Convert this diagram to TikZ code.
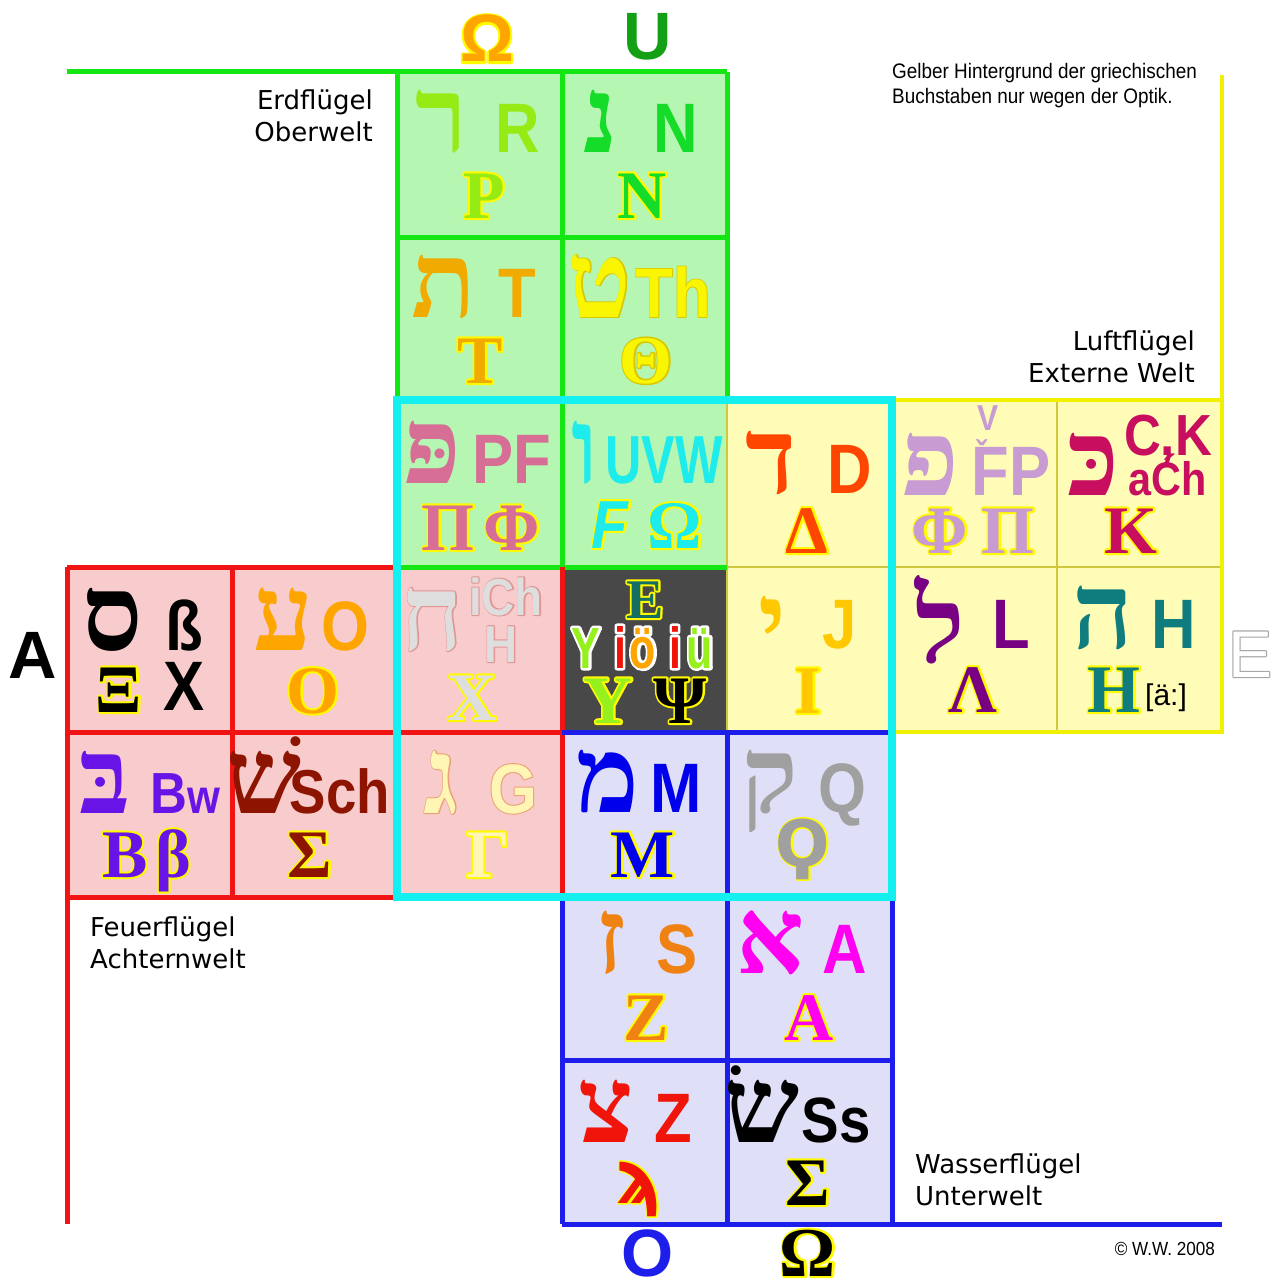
\documentclass[tikz,border=0pt]{standalone}
\usepackage{fontspec}
\setmainfont{Liberation Sans}
\newfontfamily\hebf{Liberation Serif}[Script=Hebrew]
\newfontfamily\latf{Liberation Sans}[FakeStretch=0.88]
\newfontfamily\latn{Liberation Sans}[FakeStretch=0.74]
\newfontfamily\grkf{Liberation Serif}
\newfontfamily\djsf{DejaVu Sans}
\newfontfamily\lblf{DejaVu Sans}
\newfontfamily\cndf{Liberation Sans}[FakeStretch=0.9]
\usetikzlibrary{calc}
\TeXXeTstate=1
\definecolor{gbg}{RGB}{181,246,178}
\definecolor{glnc}{RGB}{20,230,20}
\definecolor{ybg}{RGB}{255,252,184}
\definecolor{ylnc}{RGB}{240,240,0}
\definecolor{ythc}{RGB}{205,200,60}
\definecolor{rbg}{RGB}{248,204,204}
\definecolor{rlnc}{RGB}{240,20,20}
\definecolor{bbg}{RGB}{223,223,247}
\definecolor{blnc}{RGB}{30,30,235}
\definecolor{dbg}{RGB}{72,72,72}
\definecolor{cync}{RGB}{20,240,240}
\definecolor{oly}{RGB}{255,250,0}
\definecolor{olth}{RGB}{215,200,0}
\definecolor{cR}{RGB}{150,235,20}
\definecolor{cN}{RGB}{20,220,40}
\definecolor{cT}{RGB}{240,170,0}
\definecolor{cTh}{RGB}{250,245,0}
\definecolor{cPF}{RGB}{215,110,150}
\definecolor{cU}{RGB}{30,235,235}
\definecolor{cD}{RGB}{255,70,0}
\definecolor{cFP}{RGB}{200,155,210}
\definecolor{cK}{RGB}{200,15,95}
\definecolor{cO}{RGB}{255,165,0}
\definecolor{cCh}{RGB}{222,222,222}
\definecolor{chl}{RGB}{225,150,150}
\definecolor{cJ}{RGB}{255,200,0}
\definecolor{cL}{RGB}{120,0,130}
\definecolor{cH}{RGB}{15,125,125}
\definecolor{cB}{RGB}{105,20,230}
\definecolor{cSch}{RGB}{140,20,0}
\definecolor{cG}{RGB}{255,245,180}
\definecolor{cGl}{RGB}{235,160,120}
\definecolor{cM}{RGB}{0,0,235}
\definecolor{cQ}{RGB}{160,160,160}
\definecolor{cS}{RGB}{240,130,20}
\definecolor{cA}{RGB}{255,0,240}
\definecolor{cZ}{RGB}{240,20,10}
\definecolor{cYl}{RGB}{150,240,30}
\definecolor{cE}{RGB}{20,110,100}
\definecolor{cUtop}{RGB}{20,160,20}
\definecolor{cEgr}{RGB}{165,165,165}
% outlined text: a stroked copy (text render mode 2) under a plain copy
\newcommand\olt[7][4]{%
  \node[#2,text=#5] at (#4) {\special{pdf:literal direct 1 j 1 J #1 w 2 Tr}#7\special{pdf:literal direct 0 Tr}};%
  \node[#2,text=#6] (#3) at (#4) {#7};}
\begin{document}
\begin{tikzpicture}[x=1pt,y=-1pt,
  heb/.style={font=\hebf\bfseries\fontsize{106}{106}\selectfont,inner sep=0,anchor=base},
  lat/.style={font=\latf\bfseries\fontsize{70}{70}\selectfont,inner sep=0,anchor=base},
  latsz/.style={font=\latf\bfseries\fontsize{#1}{#1}\selectfont},
  grk/.style={font=\grkf\bfseries\fontsize{68}{68}\selectfont,inner sep=0,anchor=base},
  grksz/.style={font=\grkf\bfseries\fontsize{#1}{#1}\selectfont,inner sep=0,anchor=base},
  grkit/.style={font=\latf\bfseries\itshape\fontsize{68}{68}\selectfont,inner sep=0,anchor=base},
  arch/.style={font=\djsf\bfseries\fontsize{64}{64}\selectfont,inner sep=0,anchor=base},
  archsz/.style={font=\djsf\bfseries\fontsize{#1}{#1}\selectfont,inner sep=0,anchor=base},
  smallc/.style={font=\latn\bfseries\fontsize{58}{58}\selectfont,inner sep=0,anchor=base},
  lbl/.style={font=\lblf\fontsize{26}{26}\selectfont,inner sep=0},
  note/.style={font=\cndf\fontsize{21}{21}\selectfont,inner sep=0},
  big/.style={font=\bfseries\fontsize{67}{67}\selectfont,inner sep=0,anchor=base},
  gln/.style={draw=glnc,line width=5},
  rln/.style={draw=rlnc,line width=5},
  bln/.style={draw=blnc,line width=5},
  ythin/.style={draw=ythc,line width=1.5},
  ythick/.style={draw=ylnc,line width=4},
]
\useasboundingbox (0,0) rectangle (1281,1287);
\fill[white] (0,0) rectangle (1281,1287);
% backgrounds
\fill[gbg] (397,72) rectangle (727,567);
\fill[ybg] (727,400) rectangle (1222,732);
\fill[rbg] (67,567) rectangle (562,897);
\fill[dbg] (562,567) rectangle (727,732);
\fill[bbg] (562,732) rectangle (892,1224);
% yellow lines
\draw[ythin] (727,400) rectangle (1222,732);
\draw[ythin] (892,400) -- (892,732);
\draw[ythin] (1057,400) -- (1057,732);
\draw[ythin] (727,567) -- (1222,567);
\draw[ythick] (892,400) -- (1222,400);
\draw[ythick] (1222,75) -- (1222,732) -- (892,732);
% green lines
\draw[gln] (67,72) -- (727,72);
\draw[gln] (397,72) -- (397,567);
\draw[gln] (562,72) -- (562,567);
\draw[gln] (727,72) -- (727,400);
\draw[gln] (397,237) -- (727,237);
\draw[gln] (397,400) -- (727,400);
\draw[gln] (397,567) -- (727,567);
% red lines
\draw[rln] (67,567) -- (397,567);
\draw[rln] (67,567) -- (67,1224);
\draw[rln] (232,567) -- (232,897);
\draw[rln] (67,732) -- (562,732);
\draw[rln] (67,897) -- (397,897);
\draw[rln] (562,567) -- (562,897);
% blue lines
\draw[bln] (562,732) -- (892,732);
\draw[bln] (562,897) -- (562,1224);
\draw[bln] (727,732) -- (727,1224);
\draw[bln] (892,732) -- (892,1224);
\draw[bln] (562,897) -- (892,897);
\draw[bln] (562,1060) -- (892,1060);
\draw[bln] (562,1224) -- (1222,1224);
% cyan frame
\draw[draw=cync,line width=8] (397,400) rectangle (892,897);

% ---- row 1
\node[heb,text=cR] (h1) at (442,153) {ר};
\node[lat,text=cR] (l1) at (518,153) {R};
\olt{grk}{g1}{484,218}{oly}{cR}{Ρ}
\node[heb,text=cN] (h2) at (601,153) {נ};
\node[lat,text=cN] (l2) at (676,153) {N};
\olt{grk}{g2}{642,218}{oly}{cN}{Ν}
% ---- row 2
\node[heb,text=cT] (h3) at (444,317) {ת};
\node[lat,text=cT] (l3) at (517,317) {T};
\olt{grk}{g3}{480,383}{oly}{cT}{Τ}
\olt[1.5]{heb}{h4}{600,317}{olth}{cTh}{ט}
\olt[1.5]{lat}{l4}{673,317}{olth}{cTh}{Th}
\olt[3]{grk}{g4}{646,383}{olth}{cTh}{Θ}
% ---- row 3
\node[heb,text=cPF] (h5) at (432,483) {פּ};
\node[lat,text=cPF] (l5) at (512,483) {PF};
\olt{grk}{g5a}{448,550}{oly}{cPF}{Π}
\olt{grk}{g5b}{512,550}{oly}{cPF}{Φ}
\node[heb,text=cU] (h6) at (585,483) {ו};
\node[smallc,font=\latn\bfseries\fontsize{68}{68}\selectfont,text=cU] (l6) at (664,483) {UVW};
\olt{grkit}{g6a}{610,548}{oly}{cU}{F}
\olt{grk}{g6b}{675,548}{oly}{cU}{Ω}
\node[heb,text=cD] (h7) at (771,493) {ד};
\node[lat,text=cD] (l7) at (850,493) {D};
\olt{grk}{g7}{807,553}{oly}{cD}{Δ}
\node[heb,text=cFP] (h8) at (930,495) {פ};
\node[lat,latsz=36,text=cFP] (l8v) at (988,430) {V};
\node[lat,latsz=36,text=cFP] (l8c) at (982,466) {ˇ};
\node[lat,text=cFP] (l8) at (1011,495) {FP};
\olt{grk}{g8a}{940,553}{oly}{cFP}{Φ}
\olt{grk}{g8b}{1008,553}{oly}{cFP}{Π}
\node[heb,text=cK] (h9) at (1093,495) {כּ};
\node[lat,latsz=58,text=cK] (l9a) at (1168,455) {C,K};
\node[lat,latsz=47,text=cK] (l9b) at (1168,495) {aĆh};
\olt{grk}{g9}{1131,553}{oly}{cK}{Κ}
% ---- row 4
\node[heb,text=black] (h10) at (113,650) {ס};
\node[lat,text=black] (l10) at (184,650) {ß};
\olt{grk}{g10}{119,712}{oly}{black}{Ξ}
\node[lat,text=black] (l10b) at (184,710) {X};
\node[heb,text=cO] (h11) at (283,650) {ע};
\node[lat,text=cO] (l11) at (345,650) {O};
\olt{grk}{g11}{313,713}{oly}{cO}{Ο}
\olt[2]{heb}{h12}{432,650}{chl}{cCh}{ח}
\olt[2]{lat,latsz=52}{l12a}{506,615}{chl}{cCh}{iCh}
\olt[2]{lat,latsz=52}{l12b}{501,662}{chl}{cCh}{H}
\olt{grk}{g12}{472,720}{oly}{cCh}{Χ}
\olt{grksz=56}{g13e}{645,618}{oly}{cE}{Ε}
\olt[5]{smallc}{l13a}{586,668}{white}{cYl}{Y}
\olt[5]{smallc}{l13b}{620,668}{white}{cZ}{i}
\olt[5]{smallc}{l13c}{643,668}{white}{cO}{ö}
\olt[5]{smallc}{l13d}{675,668}{white}{cZ}{i}
\olt[5]{smallc}{l13e}{700,668}{white}{cYl}{ü}
\olt{grk}{g13y}{608,723}{oly}{cYl}{Υ}
\olt{grk}{g13p}{680,723}{oly}{black}{Ψ}
\node[heb,text=cJ] (h14) at (772,658) {י};
\node[lat,text=cJ] (l14) at (840,648) {J};
\olt{grk}{g14}{808,713}{oly}{cJ}{Ι}
\node[heb,text=cL] (h15) at (940,662) {ל};
\node[lat,text=cL] (l15) at (1011,648) {L};
\olt{grk}{g15}{973,712}{oly}{cL}{Λ}
\node[heb,text=cH] (h16) at (1103,648) {ה};
\node[lat,text=cH] (l16) at (1174,648) {H};
\olt{grk}{g16}{1114,712}{oly}{cH}{Η}
\node[font=\fontsize{30}{30}\selectfont,inner sep=0,anchor=base] (l16b) at (1166,705) {[ä:]};
% ---- row 5
\node[heb,text=cB] (h17) at (105,813) {בּ};
\node[lat,latsz=58,text=cB] (l17) at (185,813) {B{\fontsize{48}{48}\selectfont w}};
\olt{grk}{g17a}{125,877}{oly}{cB}{Β}
\olt{grk}{g17b}{173,877}{oly}{cB}{β}
\node[heb,text=cSch] (h18) at (264,813) {שׁ};
\node[lat,latsz=62,text=cSch] (l18) at (340,813) {Sch};
\olt{grk}{g18}{310,877}{oly}{cSch}{Σ}
\olt[2]{heb}{h19}{441,813}{cGl}{cG}{ג}
\olt[2]{lat}{l19}{513,813}{cGl}{cG}{G}
\olt{grk}{g19}{488,877}{oly}{cG}{Γ}
\node[heb,text=cM] (h20) at (608,812) {מ};
\node[lat,text=cM] (l20) at (676,812) {M};
\olt{grk}{g20}{643,877}{oly}{cM}{Μ}
\node[heb,text=cQ] (h21) at (770,812) {ק};
\node[lat,text=cQ] (l21) at (842,812) {Q};
\olt[3]{arch}{g21}{803,866}{oly}{cQ}{Ϙ}
% ---- row 6
\node[heb,text=cS] (h22) at (611,973) {ז};
\node[lat,text=cS] (l22) at (677,973) {S};
\olt{grk}{g22}{646,1040}{oly}{cS}{Ζ}
\node[heb,text=cA] (h23) at (771,973) {א};
\node[lat,text=cA] (l23) at (845,973) {A};
\olt{grk}{g23}{809,1040}{oly}{cA}{Α}
% ---- row 7
\node[heb,text=cZ] (h24) at (606,1142) {צ};
\node[lat,text=cZ] (l24) at (673,1142) {Z};
\olt[3]{archsz=74}{g24}{640,1203}{oly}{cZ}{ϡ}
\node[heb,text=black] (h25) at (762,1142) {שׂ};
\node[lat,latsz=64,text=black] (l25) at (836,1142) {Ss};
\olt{grk}{g25}{808,1205}{oly}{black}{Σ}

% ---- margin labels
\node[lbl,anchor=base east] (erd1) at (373,110) {Erdflügel};
\node[lbl,anchor=base east] (erd2) at (373,142) {Oberwelt};
\node[lbl,anchor=base east] (luf1) at (1195,350) {Luftflügel};
\node[lbl,anchor=base east] (luf2) at (1195,382) {Externe Welt};
\node[lbl,anchor=base west] (feu1) at (90,936) {Feuerflügel};
\node[lbl,anchor=base west] (feu2) at (90,968) {Achternwelt};
\node[lbl,anchor=base west] (was1) at (915,1173) {Wasserflügel};
\node[lbl,anchor=base west] (was2) at (915,1205) {Unterwelt};
\node[note,anchor=base west] (not1) at (892,79) {Gelber Hintergrund der griechischen};
\node[note,anchor=base west] (not2) at (892,104) {Buchstaben nur wegen der Optik.};
\node[note,font=\cndf\fontsize{19}{19}\selectfont,anchor=base east] (copy) at (1215,1255) {© W.W. 2008};
\olt{big}{topO}{487,62}{oly}{cO}{Ω}
\node[big,text=cUtop] (topU) at (648,60) {U};
\node[big,text=blnc] (botO) at (648,1276) {O};
\olt{grksz=70}{botW}{808,1276}{oly}{black}{Ω}
\node[big,text=black] (lA) at (33,678) {A};
\olt[2.2]{big,font=\fontsize{66}{66}\selectfont}{rE}{1250,677}{cEgr}{white}{E}
\end{tikzpicture}
\end{document}
